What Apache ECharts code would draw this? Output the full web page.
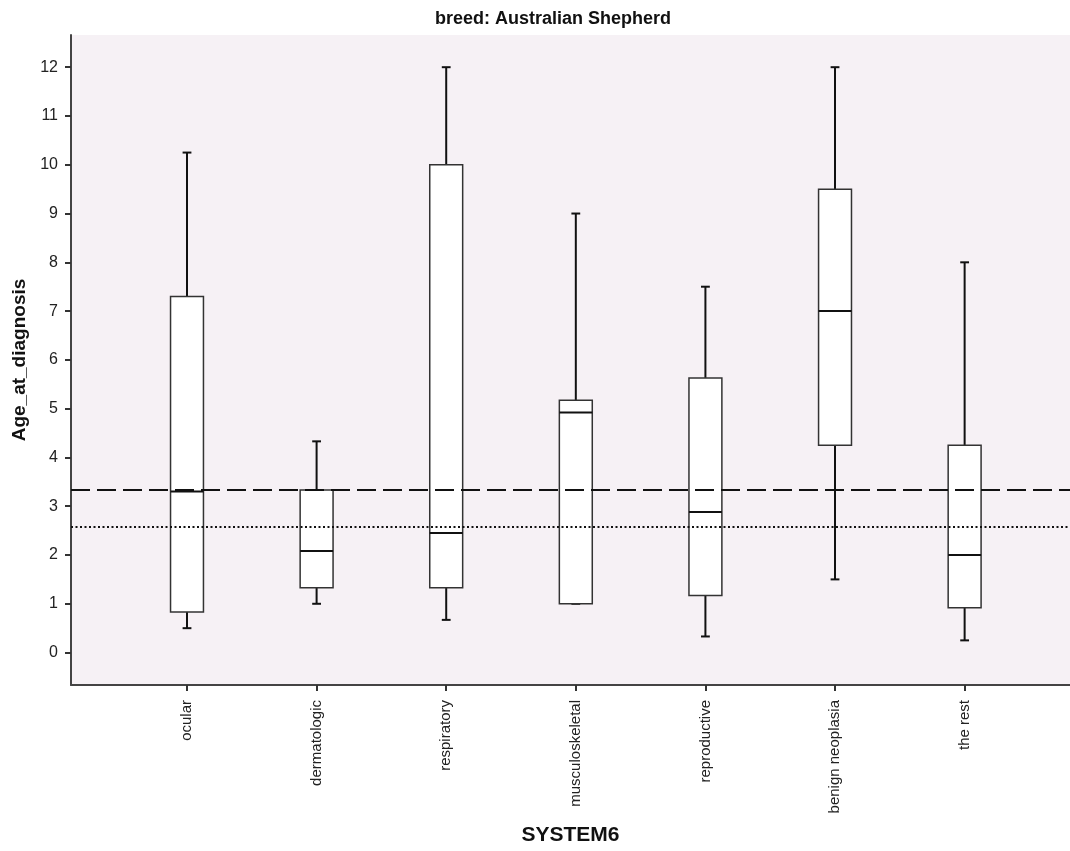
<!DOCTYPE html>
<html>
<head>
<meta charset="utf-8">
<script src="https://cdn.jsdelivr.net/npm/echarts@6/dist/echarts.min.js"></script>
<style>html,body{margin:0;padding:0;background:#fff}#c{width:1070px;height:851px}</style>
</head>
<body>
<div id="c"></div>
<script>
const categories = ['ocular','dermatologic','respiratory','musculoskeletal','reproductive','benign neoplasia','the rest'];
const whiskerLow  = [0.5, 1.0, 0.67, 1.0, 0.33, 1.5, 0.25];
const q1          = [0.83, 1.33, 1.33, 1.0, 1.17, 4.25, 0.92];
const medians     = [3.3, 2.08, 2.45, 4.92, 2.88, 7.0, 2.0];
const q3          = [7.3, 3.33, 10.0, 5.17, 5.63, 9.5, 4.25];
const whiskerHigh = [10.25, 4.33, 12.0, 9.0, 7.5, 12.0, 8.0];
const yTicks = [0,1,2,3,4,5,6,7,8,9,10,11,12];
const refDashed = 3.33;
const refDotted = 2.58;

const boxData = categories.map((c, i) => [i, whiskerLow[i], q1[i], medians[i], q3[i], whiskerHigh[i]]);

const chart = echarts.init(document.getElementById('c'), null, {renderer: 'canvas'});
const FONT = 'Liberation Sans, Arial, sans-serif';

function renderBox(params, api) {
  const i = api.value(0);
  const lo = api.coord([i, api.value(1)]);
  const b1 = api.coord([i, api.value(2)]);
  const md = api.coord([i, api.value(3)]);
  const b3 = api.coord([i, api.value(4)]);
  const hi = api.coord([i, api.value(5)]);
  const unit = api.size([1, 0])[0];
  const hw = unit * 0.127;
  const cw = unit * 0.034;
  const x = lo[0];
  const wStyle = {stroke: '#111', lineWidth: 2};
  const children = [
    {type: 'line', shape: {x1: x, y1: hi[1], x2: x, y2: b3[1]}, style: wStyle},
    {type: 'line', shape: {x1: x - cw, y1: hi[1], x2: x + cw, y2: hi[1]}, style: wStyle},
    {type: 'line', shape: {x1: x, y1: lo[1], x2: x, y2: b1[1]}, style: wStyle},
    {type: 'line', shape: {x1: x - cw, y1: lo[1], x2: x + cw, y2: lo[1]}, style: wStyle},
    {type: 'rect', shape: {x: x - hw, y: b3[1], width: hw * 2, height: b1[1] - b3[1]},
     style: {fill: '#ffffff', stroke: '#333', lineWidth: 1.5}},
    {type: 'line', shape: {x1: x - hw, y1: md[1], x2: x + hw, y2: md[1]}, style: {stroke: '#111', lineWidth: 2}}
  ];
  return {type: 'group', children};
}

chart.setOption({
  animation: false,
  backgroundColor: '#ffffff',
  title: {
    text: 'breed: Australian Shepherd',
    left: 548, top: 5, textAlign: 'center',
    textStyle: {fontFamily: FONT, fontSize: 18, fontWeight: 'bold', color: '#111'}
  },
  grid: {left: 71, right: 0, top: 35, bottom: 165, show: true, backgroundColor: '#f6f1f5', borderWidth: 0},
  xAxis: {
    type: 'value', min: -0.895, max: 6.813,
    name: 'SYSTEM6', nameLocation: 'middle', nameGap: 140,
    nameTextStyle: {fontFamily: FONT, fontSize: 21, fontWeight: 'bold', color: '#111'},
    axisLine: {show: true, onZero: false, lineStyle: {color: '#444', width: 2}},
    axisTick: {show: true, length: 6, customValues: [0,1,2,3,4,5,6], lineStyle: {color: '#333', width: 2}},
    axisLabel: {
      customValues: [0,1,2,3,4,5,6], rotate: 90, margin: 15,
      fontFamily: FONT, fontSize: 15, color: '#222',
      formatter: v => categories[Math.round(v)] || ''
    },
    splitLine: {show: false}
  },
  yAxis: {
    type: 'value', min: -0.665, max: 12.66,
    name: 'Age_at_diagnosis', nameLocation: 'middle', nameGap: 40,
    nameTextStyle: {fontFamily: FONT, fontSize: 19, fontWeight: 'bold', color: '#111'},
    axisLine: {show: true, onZero: false, lineStyle: {color: '#444', width: 2}},
    axisTick: {show: true, length: 6, customValues: yTicks, lineStyle: {color: '#333', width: 2}},
    axisLabel: {customValues: yTicks, margin: 13, fontFamily: FONT, fontSize: 16, color: '#222'},
    splitLine: {show: false}
  },
  series: [
    {
      type: 'custom', renderItem: renderBox, data: boxData, z: 2,
      encode: {x: 0, y: [1, 2, 3, 4, 5]}
    },
    {
      type: 'line', data: [], z: 5, silent: true,
      markLine: {
        silent: true, symbol: 'none', label: {show: false},
        data: [
          {yAxis: refDashed, lineStyle: {color: '#111', width: 2, type: [19, 7]}},
          {yAxis: refDotted, lineStyle: {color: '#111', width: 2, type: [2, 2.5]}}
        ]
      }
    }
  ]
});
</script>
</body>
</html>
